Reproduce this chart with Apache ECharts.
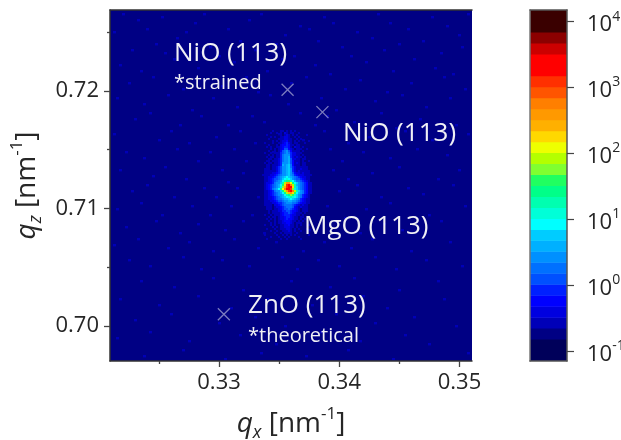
<!DOCTYPE html>
<html><head><meta charset="utf-8">
<style>html,body{margin:0;padding:0;background:#fff}#c{width:621px;height:440px}</style>
<script src="https://cdn.jsdelivr.net/npm/echarts@6/dist/echarts.min.js"></script></head>
<body><div id="c"></div>
<script>
const xTickValues=[0.33,0.34,0.35];
const xMinorValues=[0.325,0.335,0.345];
const yTickValues=[0.70,0.71,0.72];
const yMinorValues=[0.705,0.715,0.725];
const barExponents=[-1,0,1,2,3,4];
const peakNames=['NiO (113) strained','NiO (113)','ZnO (113) theoretical'];
const peakQx=[0.3357,0.3386,0.3304];
const peakQz=[0.7201,0.7182,0.7010];
// colour bands of the bar, low to high
const barColors=['#00005a','#00005a','#000084','#0000b8','#0000e0','#0000ff','#0020ff','#0050ff','#0070ff','#0090ff','#00b0ff','#00ccff','#00ffff','#00ffd8','#00ffb0','#00ff88','#20ff60','#80ff30','#b4ff00','#eeff00','#ffd800','#ffb000','#ff9900','#ff7f00','#ff5500','#ff3000','#ff0000','#ff0000','#cc0000','#8b0000','#3a0000','#3a0000'];
// background band of the map
const backgroundBand=2;
// brighter single-count specks of the background: cell column, cell row pairs
const speckCells=[
4,1,9,3,17,2,28,4,31,1,46,3,50,1,63,5,71,2,74,4,89,1,93,4,107,2,112,5,119,1,
1,7,12,6,22,9,25,7,39,6,43,10,58,8,66,6,69,10,82,7,87,9,99,6,104,10,116,8,
7,13,15,11,18,14,33,12,36,15,48,13,55,11,61,15,77,12,80,15,91,13,96,11,110,14,117,12,
3,18,10,20,21,16,29,19,41,17,52,20,57,16,68,18,73,21,85,17,94,20,101,16,108,19,114,21,
6,24,14,22,24,26,31,23,37,25,45,22,49,27,60,24,65,22,78,26,83,23,92,27,100,24,111,22,118,26,
2,29,11,31,19,28,27,33,34,29,42,32,53,28,59,31,70,29,75,33,88,30,97,28,105,32,113,29,
8,36,13,34,23,38,30,35,39,38,47,35,51,37,63,34,68,38,72,35,81,37,90,34,95,39,103,36,115,38,
1,41,16,43,20,40,26,44,35,42,43,40,48,44,56,41,64,43,71,40,79,44,86,42,98,40,107,43,119,41,
5,47,11,49,22,46,29,50,33,47,41,46,45,50,54,47,58,50,73,46,77,50,84,47,93,49,102,46,112,48,
3,53,14,55,18,52,25,56,37,53,39,57,44,54,52,56,74,53,79,56,87,54,96,52,109,56,116,53,
7,60,12,58,21,62,31,59,35,62,42,59,49,62,53,59,76,60,82,58,90,62,99,59,104,61,114,58,
2,66,10,64,17,68,27,65,33,68,40,65,47,68,56,64,61,67,72,65,78,69,85,66,93,64,106,68,118,65,
5,72,15,70,23,74,29,71,38,73,44,70,51,74,59,71,66,73,75,70,83,74,91,71,97,73,110,70,
1,78,9,76,19,79,26,77,34,80,41,76,49,79,55,77,64,80,71,77,80,79,87,76,100,80,113,77,
6,83,13,85,24,82,30,86,37,83,46,85,57,82,62,86,69,83,76,85,88,82,95,86,105,83,117,85,
10,90,21,92,34,89,44,93,60,90,73,92,81,89,96,93,109,90,
3,96,16,98,29,95,40,99,52,96,67,98,84,95,92,99,111,96,
8,103,20,101,36,104,48,102,58,105,75,101,88,104,101,102,115,105,
2,109,13,107,26,110,43,108,55,111,70,107,83,110,98,108,106,111,
11,115,24,113,38,116,50,114,65,115,79,113,94,116,119,114
];
// band index (base 36): peak and streak
const coreRows=[
"2222232223323232322222222",
"2222322323243233223222222",
"2232222223234323232222322",
"2222323223344322323222222",
"2223222233344332232322222",
"2222232323445332323222232",
"2322232233456432332223222",
"2223222324556533233222222",
"2232322334566532433232222",
"2222323234577543233322322",
"2223223235789753333232222",
"2322323336789864433322222",
"2223232336899964433232222",
"2232332336899a64343323222",
"2223323346899a74433233222",
"2233233346899a75333232232",
"2323323346999a75343233222",
"2233233346a9ab85333233222",
"223323346799ab86433333322",
"233323346799ab96433433322",
"233333346799ab96434333332",
"233334456799ab97544343332",
"333344567899ab98654443333",
"2334456789abcba9876544332",
"2334567789bcdcb9877654332",
"233456789acefgeca88765432",
"234456899beimmjfcb9876533",
"23456789acgkpqniea9876533",
"23456789adhlprqkeb9876533",
"2345689acgjnqrphdb9876533",
"233456899bfimpqnieb986533",
"233456789acfilmkgca986533",
"2334567899acefhgdb9865432",
"2334456789abcdedcb9865432",
"23344567889aabcba98654332",
"2333445677899aa9987654332",
"2333344566789998876544332",
"2333324456788887654343322",
"2233323445678887543433322",
"2233323345677876543233322",
"2223233344667765543233322",
"2223233334566765433323222",
"2322323334566654433232222",
"2223233234456654332332322",
"2232323234456554332323222",
"2223223233455543323232222",
"2222323233445543233322222",
"2322323223344533232322232",
"2222232323344433232222222",
"2232223223334432323222322",
"2222322322333432322322222",
"2222223223233332232222222",
"2322222322323232322222232",
"2222322232232322223222222",
"2232222223223222222322222"
];
const xMin=0.32093,xMax=0.35104,yMin=0.69702,yMax=0.72689;
const barMin=-1.152,barMax=4.167;
const dqx=(xMax-xMin)/362, dqz=(yMax-yMin)/351;
function cells(rows,x0,y0,step){
  const out=[];
  rows.forEach((r,j)=>{for(let i=0;i<r.length;i++){
    out.push([xMin+(x0+i*step-110)*dqx, yMax-(y0+j*step-10)*dqz, step*dqx, step*dqz, parseInt(r[i],36)]);
  }});
  return out;
}
const mapData=[[xMin,yMax,xMax-xMin,yMax-yMin,backgroundBand]];
for(let k=0;k<speckCells.length;k+=2){
  mapData.push([xMin+speckCells[k]*3*dqx, yMax-speckCells[k+1]*3*dqz, 3*dqx, 2.4*dqz, 3]);
}
mapData.push(...cells(coreRows,262,130,2).filter(c=>c[4]>backgroundBand));
const bandH=(barMax-barMin)/barColors.length;
const barData=barColors.map((c,i)=>[barMin+i*bandH,barMin+(i+1)*bandH,i]);
const FONT='"Open Sans"';
const TXT='#262626';
const chart=echarts.init(document.getElementById('c'),null,{renderer:'canvas'});
const line={show:true,onZero:false,lineStyle:{color:'#333',width:1.5}};
const barLine={show:true,onZero:false,lineStyle:{color:'#555',width:1.5}};
const mainTick={show:true,length:6,lineStyle:{color:'#444',width:1.3}};
const minorTick={show:true,length:3,lineStyle:{color:'#444',width:1.3}};
const nameRich={
  q:{fontFamily:FONT,fontSize:28,fontStyle:'italic',color:TXT,lineHeight:36,verticalAlign:'middle'},
  sub:{fontFamily:FONT,fontSize:18,fontStyle:'italic',color:TXT,lineHeight:36,verticalAlign:'bottom'},
  t:{fontFamily:FONT,fontSize:28,color:TXT,lineHeight:36,verticalAlign:'middle'},
  sup:{fontFamily:FONT,fontSize:17,color:TXT,lineHeight:36,verticalAlign:'top'}
};
const label=(t,x,y,s)=>({type:'text',z:20,x,y,style:{text:t,fill:'#f0f0f5',font:s+'px '+FONT,textVerticalAlign:'middle'}});
chart.setOption({
  animation:false,
  backgroundColor:'#fff',
  grid:[
    {left:110,top:10,width:362,height:351,show:false,outerBoundsMode:'none'},
    {left:530,top:10,width:37,height:351,show:false,outerBoundsMode:'none'}
  ],
  xAxis:[
    {type:'value',gridIndex:0,position:'bottom',min:xMin,max:xMax,z:5,axisLine:line,splitLine:{show:false},
     axisTick:Object.assign({customValues:xTickValues},mainTick),
     axisLabel:{customValues:xTickValues,formatter:v=>v.toFixed(2),fontFamily:FONT,fontSize:22,color:TXT,margin:11},
     name:'{q|q}{sub|x}{t| [nm}{sup|-1}{t|]}',nameLocation:'middle',nameGap:45,nameTextStyle:{rich:nameRich,align:'center'}},
    {type:'value',gridIndex:0,position:'bottom',min:xMin,max:xMax,z:5,axisLine:{show:false},splitLine:{show:false},
     axisTick:Object.assign({customValues:xMinorValues},minorTick),axisLabel:{show:false}},
    {type:'value',gridIndex:0,position:'top',min:xMin,max:xMax,z:5,axisLine:line,splitLine:{show:false},axisTick:{show:false},axisLabel:{show:false}},
    {type:'value',gridIndex:1,position:'bottom',min:0,max:1,z:5,axisLine:barLine,axisTick:{show:false},axisLabel:{show:false},splitLine:{show:false}},
    {type:'value',gridIndex:1,position:'top',min:0,max:1,z:5,axisLine:barLine,axisTick:{show:false},axisLabel:{show:false},splitLine:{show:false}}
  ],
  yAxis:[
    {type:'value',gridIndex:0,position:'left',min:yMin,max:yMax,z:5,axisLine:line,splitLine:{show:false},
     axisTick:Object.assign({customValues:yTickValues},mainTick),
     axisLabel:{customValues:yTickValues,formatter:v=>v.toFixed(2),fontFamily:FONT,fontSize:22,color:TXT,margin:11},
     name:'{q|q}{sub|z}{t| [nm}{sup|-1}{t|]}',nameLocation:'middle',nameGap:61,nameRotate:90,nameTextStyle:{rich:nameRich,align:'center'}},
    {type:'value',gridIndex:0,position:'left',min:yMin,max:yMax,z:5,axisLine:{show:false},splitLine:{show:false},
     axisTick:Object.assign({customValues:yMinorValues},minorTick),axisLabel:{show:false}},
    {type:'value',gridIndex:1,position:'right',min:barMin,max:barMax,z:5,splitLine:{show:false},
     axisLine:barLine,
     axisTick:{show:true,customValues:barExponents,length:7,lineStyle:{color:'#444',width:1.2}},
     axisLabel:{customValues:barExponents,margin:20,padding:[7,0,0,0],formatter:v=>'{b|10}{s|'+v+'}',
       rich:{b:{fontFamily:FONT,fontSize:22,color:TXT,lineHeight:30,verticalAlign:'middle'},s:{fontFamily:FONT,fontSize:14,color:TXT,lineHeight:30,verticalAlign:'top'}}}},
    {type:'value',gridIndex:1,position:'left',min:barMin,max:barMax,z:5,splitLine:{show:false},
     axisLine:{show:true,onZero:false,lineStyle:{color:'#777',width:1.5}},axisTick:{show:false},axisLabel:{show:false}}
  ],
  series:[
    {type:'custom',xAxisIndex:0,yAxisIndex:0,clip:true,z:2,progressive:0,silent:true,data:mapData,
     encode:{x:0,y:1},
     renderItem:(p,api)=>{
       const a=api.coord([api.value(0),api.value(1)]);
       const b=api.coord([api.value(0)+api.value(2),api.value(1)-api.value(3)]);
       return {type:'rect',shape:{x:a[0],y:a[1],width:b[0]-a[0],height:b[1]-a[1]},style:{fill:barColors[api.value(4)]}};
     }},
    {type:'scatter',xAxisIndex:0,yAxisIndex:0,z:4,silent:true,symbol:'path://M0,0L10,10M10,0L0,10',symbolSize:12,
     data:peakQx.map((x,i)=>({name:peakNames[i],value:[x,peakQz[i]]})),
     itemStyle:{color:'none',borderColor:'rgba(205,205,230,0.75)',borderWidth:1.3}},
    {type:'custom',xAxisIndex:3,yAxisIndex:2,clip:true,z:2,silent:true,data:barData,
     encode:{y:[0,1]},
     renderItem:(p,api)=>{
       const a=api.coord([0,api.value(1)]),b=api.coord([1,api.value(0)]);
       return {type:'rect',shape:{x:a[0],y:a[1],width:b[0]-a[0],height:b[1]-a[1]+.5},style:{fill:barColors[api.value(2)]}};
     }}
  ],
  graphic:[
    label('NiO (113)',174,54,26),label('*strained',174,83,20),
    label('NiO (113)',343,134,26),
    label('MgO (113)',304,227,26),
    label('ZnO (113)',248,306,26),label('*theoretical',248,336,20)
  ]
});
</script></body></html>
